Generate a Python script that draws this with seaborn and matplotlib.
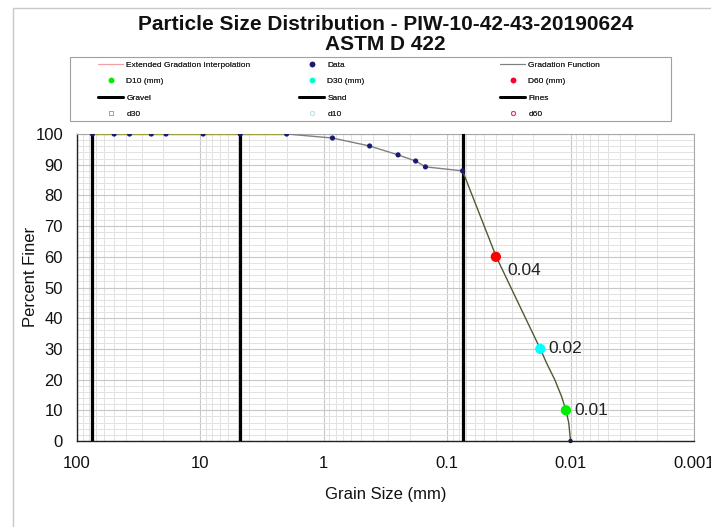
import numpy as np
import pandas as pd
import matplotlib
matplotlib.use("Agg")
import matplotlib.pyplot as plt
import seaborn as sns
from matplotlib.lines import Line2D
from matplotlib.patches import Rectangle
from matplotlib.ticker import LogLocator, MultipleLocator, NullFormatter

# ---------------- data ----------------
sieve_mm = [75, 50, 37.5, 25, 19, 9.5, 4.75, 2.0, 0.85, 0.425, 0.25, 0.18, 0.15, 0.075]
sieve_pf = [100, 100, 100, 100, 100, 100, 100, 100, 98.7, 96.1, 93.2, 91.2, 89.3, 88.0]
fines_mm = [0.075, 0.04, 0.0273, 0.0176, 0.0156, 0.0134, 0.0118, 0.0109, 0.01035, 0.0100]
fines_pf = [88.0, 60.0, 46.0, 30.0, 25.3, 19.9, 14.4, 10.0, 6.0, 0.0]
end_mm = [0.0100]
end_pf = [0.0]
d_names = ["D10 (mm)", "D30 (mm)", "D60 (mm)"]
d_mm = [0.0109, 0.0176, 0.0403]
d_pf = [10, 30, 60]
d_text = ["0.01", "0.02", "0.04"]
bounds_mm = [75, 4.75, 0.075]
bounds_names = ["Gravel", "Sand", "Fines"]
xtick_vals = [100, 10, 1, 0.1, 0.01, 0.001]
xtick_labels = ["100", "10", "1", "0.1", "0.01", "0.001"]
yticks = list(range(0, 101, 10))

title_lines = ["Particle Size Distribution - PIW-10-42-43-20190624", "ASTM D 422"]

# ---------------- style ----------------
sns.set_theme(style="white")
plt.rcParams["font.family"] = ["Liberation Sans", "DejaVu Sans"]

fig = plt.figure(figsize=(7.11, 5.27), dpi=100)
ax = fig.add_axes([0.1083, 0.1632, 0.8677, 0.5825])

sieve_df = pd.DataFrame({"mm": sieve_mm, "pf": sieve_pf})
fines_df = pd.DataFrame({"mm": fines_mm, "pf": fines_pf})
top_df = sieve_df[sieve_df["pf"] >= 100]

# grid
ax.set_xscale("log")
ax.set_xlim(100, 0.001)
ax.set_ylim(0, 100)
ax.xaxis.set_major_locator(plt.FixedLocator(xtick_vals))
ax.xaxis.set_major_formatter(plt.FixedFormatter(xtick_labels))
ax.xaxis.set_minor_locator(LogLocator(base=10, subs=np.arange(2, 10)))
ax.xaxis.set_minor_formatter(NullFormatter())
ax.set_yticks(yticks)
ax.yaxis.set_minor_locator(MultipleLocator(2))
ax.grid(True, which="major", color="#c8c8c8", lw=0.8)
ax.grid(True, which="minor", color="#e2e2e2", lw=0.7)
ax.set_axisbelow(True)

# boundaries
for b in bounds_mm:
    ax.axvline(b, color="black", lw=2.3, zorder=3)

# gradation lines
sns.lineplot(data=sieve_df, x="mm", y="pf", ax=ax, color="#808080", lw=1.0,
             sort=False, estimator=None, zorder=4)
sns.lineplot(data=top_df, x="mm", y="pf", ax=ax, color="#a0a048", lw=1.0,
             sort=False, estimator=None, zorder=4)
sns.lineplot(data=fines_df, x="mm", y="pf", ax=ax, color="#4c5c30", lw=1.0,
             sort=False, estimator=None, zorder=4)

# data points
sns.scatterplot(data=sieve_df, x="mm", y="pf", ax=ax, color="#1a1a70", s=14,
                edgecolor="none", zorder=6)
sns.scatterplot(x=end_mm, y=end_pf, ax=ax, color="#1a1a40", s=10,
                edgecolor="none", zorder=6, clip_on=False)

# D-values
d_colors = ["#00ee00", "#00ffff", "#ff0000"]
label_offsets = [(6, 0), (6, 0), (8, -10)]
for xm, yp, c, t, off in zip(d_mm, d_pf, d_colors, d_text, label_offsets):
    sns.scatterplot(x=[xm], y=[yp], ax=ax, color=c, s=55, edgecolor="none", zorder=7)
    ax.annotate(t, (xm, yp), xytext=off, textcoords="offset points",
                fontsize=12.5, color="#222222", va="center", ha="left")

ax.set_xlabel("Grain Size (mm)", fontsize=12, labelpad=12, color="#111111")
ax.set_ylabel("Percent Finer", fontsize=12, labelpad=-2, color="#111111")
ax.yaxis.label.set_y(0.535)
ax.tick_params(axis="both", which="major", labelsize=12, colors="#111111",
               length=4, direction="out", pad=6)
ax.tick_params(axis="both", which="minor", length=0)
ax.tick_params(axis="x", which="major", direction="in", length=4, pad=10.5)
for s in ["left", "bottom"]:
    ax.spines[s].set_color("#222222")
    ax.spines[s].set_linewidth(1.0)
for s in ["top", "right"]:
    ax.spines[s].set_color("#a8a8a8")
    ax.spines[s].set_linewidth(0.8)

fig.text(0.5425, 1 - 25 / 527, title_lines[0], ha="center", va="center", fontsize=15,
         fontweight="bold", color="#111111")
fig.text(0.5425, 1 - 44 / 527, title_lines[1], ha="center", va="center", fontsize=15,
         fontweight="bold", color="#111111")

# legend: frame + three frameless columns
fig.patches.append(Rectangle((70 / 711, 1 - 121 / 527), 601 / 711, 64 / 527,
                             transform=fig.transFigure, fill=False,
                             edgecolor="#a0a0a0", lw=0.8))

h_ext = Line2D([], [], color="#f4a0a8", lw=0.8)
h_data = Line2D([], [], color="#1a1a70", marker="o", ms=3, lw=0)
h_grad = Line2D([], [], color="#808080", lw=0.8)
h_d10 = Line2D([], [], color="#00ee00", marker="o", ms=3, lw=0)
h_d30 = Line2D([], [], color="#00ffcc", marker="o", ms=3, lw=0)
h_d60 = Line2D([], [], color="#ff0033", marker="o", ms=3, lw=0)
h_bnd = [Line2D([], [], color="black", lw=2) for _ in bounds_names]
h_o30 = Line2D([], [], color="#40d0d0", marker="s", ms=3, mfc="none", lw=0, mew=0.7)
h_o10 = Line2D([], [], color="#c0e8e8", marker="o", ms=3, mfc="none", lw=0, mew=0.7)
h_o60 = Line2D([], [], color="#e04070", marker="o", ms=3, mfc="none", lw=0, mew=0.7)

columns = [
    ([h_ext, h_d10, h_bnd[0], h_o30],
     ["Extended Gradation Interpolation", d_names[0], bounds_names[0], "d30"]),
    ([h_data, h_d30, h_bnd[1], h_o10],
     ["Data", d_names[1], bounds_names[1], "d10"]),
    ([h_grad, h_d60, h_bnd[2], h_o60],
     ["Gradation Function", d_names[2], bounds_names[2], "d60"]),
]
col_x = [98, 299, 500]
for (hs, ls), cx in zip(columns, col_x):
    lg = fig.legend(hs, ls, loc="upper left",
                    bbox_to_anchor=(cx / 711, 1 - 61 / 527),
                    fontsize=6, frameon=False, handlelength=3.0,
                    handletextpad=0.4, labelspacing=1.03,
                    borderaxespad=0, borderpad=0)
    fig.add_artist(lg)

# figure border
fig.patches.append(Rectangle((13 / 711, -0.2), 1.2, 1.2 - 8 / 527,
                             transform=fig.transFigure, fill=False,
                             edgecolor="#c8c8c8", lw=1.0))

fig.savefig("out.png", dpi=100)
